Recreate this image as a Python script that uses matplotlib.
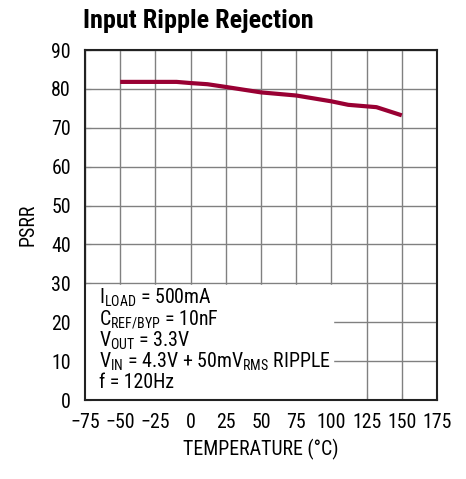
import matplotlib
matplotlib.use("Agg")
import matplotlib.pyplot as plt

plt.rcParams['font.family'] = ['Roboto Condensed', 'DejaVu Sans']
plt.rcParams['mathtext.fontset'] = 'custom'
plt.rcParams['mathtext.rm'] = 'Roboto Condensed'

temperature = [-50, -25, -10, 0, 12, 25, 50, 75, 100, 112, 132, 150]
psrr = [81.8, 81.8, 81.8, 81.5, 81.2, 80.5, 79.1, 78.3, 76.8, 75.9, 75.3, 73.2]

xticks = [-75, -50, -25, 0, 25, 50, 75, 100, 125, 150, 175]
xtick_labels = ['\u221275', '\u221250', '\u221225', '0', '25', '50', '75', '100', '125', '150', '175']
yticks = [0, 10, 20, 30, 40, 50, 60, 70, 80, 90]

W, H = 466, 479
fig = plt.figure(figsize=(W / 100, H / 100), dpi=100)
ax = fig.add_axes([85 / W, 1 - 400 / H, (437 - 85) / W, (400 - 50) / H])

ax.plot(temperature, psrr, color='#990033', lw=3, solid_capstyle='butt', zorder=4)

ax.set_xlim(-75, 175)
ax.set_ylim(0, 90)
ax.set_xticks(xticks)
ax.set_xticklabels(xtick_labels)
ax.set_yticks(yticks)
ax.grid(True, color='#808080', lw=1)
ax.set_axisbelow(True)
ax.tick_params(direction='in', length=4, color='#808080', labelsize=14.3)
ax.tick_params(axis='x', pad=9)
ax.tick_params(axis='y', pad=10)
for s in ax.spines.values():
    s.set_linewidth(1.5)
    s.set_color('#222222')

# white text box covering the gridlines
ax.axvspan(-75, 101, ymin=0, ymax=(90 - (285 - 50) / 3.889) / 90, color='white', zorder=1.5)

lines = [
    r'I$_{\mathrm{LOAD}}$ = 500mA',
    r'C$_{\mathrm{REF/BYP}}$ = 10nF',
    r'V$_{\mathrm{OUT}}$ = 3.3V',
    r'V$_{\mathrm{IN}}$ = 4.3V + 50mV$_{\mathrm{RMS}}$ RIPPLE',
    'f = 120Hz',
]
for i, t in enumerate(lines):
    ax.text(-65, 26.2 - i * 5.45, t, fontsize=14.3, va='center', ha='left', zorder=3)

ax.set_xlabel('TEMPERATURE (\u00b0C)', fontsize=14.3, labelpad=5)
ax.set_ylabel('PSRR', fontsize=14.3, labelpad=10)

fig.text(83 / W, 1 - 21 / H, 'Input Ripple Rejection', fontsize=18.8, fontweight='bold',
         ha='left', va='center')
fig.text(393 / W, 1 - 485 / H, '3035 G20', fontsize=8, ha='left', va='center', color='#333333')

fig.savefig('out.png', dpi=100)
